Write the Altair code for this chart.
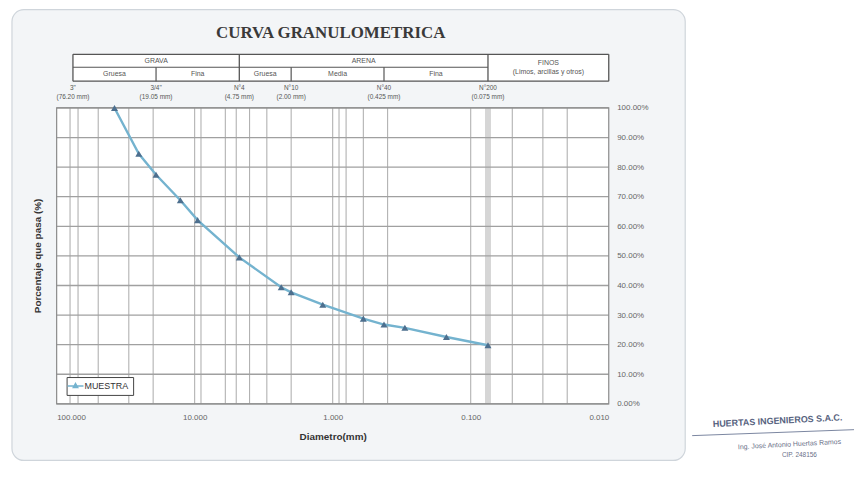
import altair as alt
import pandas as pd
import numpy as np

# ---------------- data ----------------
diametros = [38.1, 25.4, 19.05, 12.7, 9.525, 4.75, 2.36, 2.00, 1.18, 0.60, 0.425, 0.30, 0.15, 0.075]
pasa = [100.0, 84.5, 77.4, 68.8, 62.1, 49.5, 39.4, 37.7, 33.5, 28.8, 26.8, 25.7, 22.6, 19.8]
serie = "MUESTRA"

x_ticks = [100, 10, 1, 0.1, 0.01]
y_ticks = list(range(0, 101, 10))
v_grid = [80, 70, 50, 30, 20, 10, 9, 6, 5, 4, 3, 2, 1, 0.9, 0.8, 0.6, 0.4, 0.1, 0.05, 0.03, 0.02]
banda = [0.075]

tamices = ['3"', '3/4"', 'N°4', 'N°10', 'N°40', 'N°200']
tamiz_mm = [76.2, 19.05, 4.75, 2.0, 0.425, 0.075]
tamiz_txt = ['(76.20 mm)', '(19.05 mm)', '(4.75 mm)', '(2.00 mm)', '(0.425 mm)', '(0.075 mm)']

fila1 = ['GRAVA', 'ARENA']
fila1_desde = [76.2, 4.75]
fila1_hasta = [4.75, 0.075]
fila2 = ['Gruesa', 'Fina', 'Gruesa', 'Media', 'Fina']
fila2_desde = [76.2, 19.05, 4.75, 2.0, 0.425]
fila2_hasta = [19.05, 4.75, 2.0, 0.425, 0.075]
finos = ['FINOS', '(Limos, arcillas y otros)']
finos_desde = 0.075
finos_hasta = 0.01
div_completas = [76.2, 4.75, 0.075, 0.01]
div_fila2 = [19.05, 2.0, 0.425]

# ---------------- frames ----------------
curva = pd.DataFrame({"d": diametros, "p": pasa, "serie": serie})
hgrid = pd.DataFrame({"p": y_ticks})
vgrid = pd.DataFrame({"d": v_grid})
band = pd.DataFrame({"d": banda})
tam = pd.DataFrame({"d": tamiz_mm, "t1": tamices, "t2": tamiz_txt})
f1 = pd.DataFrame({"t": fila1, "c": np.sqrt(np.array(fila1_desde) * np.array(fila1_hasta))})
f2 = pd.DataFrame({"t": fila2, "c": np.sqrt(np.array(fila2_desde) * np.array(fila2_hasta))})
fin = pd.DataFrame({"t": [finos[0]], "c": [np.sqrt(finos_desde * finos_hasta)]})
fin2 = pd.DataFrame({"t": [finos[1]], "c": [np.sqrt(finos_desde * finos_hasta)]})
divc = pd.DataFrame({"d": div_completas})
div2 = pd.DataFrame({"d": div_fila2})
caja = pd.DataFrame({"a": [div_completas[0]], "b": [div_completas[-1]]})
marco = pd.DataFrame({"a": [x_ticks[0]], "b": [x_ticks[-1]], "p1": [100], "p2": [0]})

W, H = 556, 298
xs = alt.Scale(type="log", domain=[0.01, 100], reverse=True)
ys = alt.Scale(domain=[0, 100])
FONT = "Liberation Sans"

AX = alt.Axis(values=x_ticks, format=".3f", grid=False, ticks=False,
              domain=False, labelFontSize=8, labelColor="#666",
              labelPadding=10, labelFont=FONT, title="Diametro(mm)",
              titleFontSize=10, titleFont=FONT, titleColor="#333",
              titlePadding=10, zindex=2, labelOverlap=False)
AY = alt.Axis(orient="right", values=y_ticks, grid=False, ticks=False, domain=False,
              labelExpr="format(datum.value, '.2f') + '%'", labelFontSize=8,
              labelColor="#666", labelPadding=8, labelFont=FONT, title=None,
              zindex=2, labelOverlap=False)


def X(f):
    return alt.X(f, scale=xs, axis=AX)


def Y(f):
    return alt.Y(f, scale=ys, axis=AY)


T_TOP, T_MID, T_BOT = -54, -41, -27

# card background
card = alt.Chart(pd.DataFrame({"k": [0]})).mark_rect(
    fill="#f3f5f7", stroke="#cfd5db", strokeWidth=1.2, cornerRadius=12
).encode(x=alt.value(-45), x2=alt.value(633), y=alt.value(-99), y2=alt.value(355))

plot_bg = alt.Chart(marco).mark_rect(fill="white").encode(
    x=X("a:Q"), x2="b:Q", y=Y("p1:Q"), y2="p2:Q")

band_l = alt.Chart(band).mark_rule(color="#d6d6d6", strokeWidth=6).encode(x=X("d:Q"))
vg = alt.Chart(vgrid).mark_rule(color="#a9a9a9", strokeWidth=1).encode(x=X("d:Q"))
hg = alt.Chart(hgrid).mark_rule(color="#a0a0a0", strokeWidth=1.3).encode(y=Y("p:Q"))

border = alt.Chart(marco).mark_rect(fill=None, stroke="#8a8a8a", strokeWidth=1.2).encode(
    x=X("a:Q"), x2="b:Q", y=Y("p1:Q"), y2="p2:Q")

# header table
tbl_bg = alt.Chart(caja).mark_rect(fill="white").encode(
    x=X("a:Q"), x2="b:Q", y=alt.value(T_TOP), y2=alt.value(T_BOT))
hl = []
for yy, src in [(T_TOP, caja), (T_BOT, caja)]:
    hl.append(alt.Chart(src).mark_rule(color="#555", strokeWidth=1.3).encode(
        x=X("a:Q"), x2="b:Q", y=alt.value(yy)))
hl.append(alt.Chart(pd.DataFrame({"a": [div_completas[0]], "b": [finos_desde]})).mark_rule(
    color="#555", strokeWidth=1.2).encode(x=X("a:Q"), x2="b:Q", y=alt.value(T_MID)))
vc = alt.Chart(divc).mark_rule(color="#555", strokeWidth=1.3).encode(
    x=X("d:Q"), y=alt.value(T_TOP), y2=alt.value(T_BOT))
v2 = alt.Chart(div2).mark_rule(color="#555", strokeWidth=1.2).encode(
    x=X("d:Q"), y=alt.value(T_MID), y2=alt.value(T_BOT))
txt_kw = dict(font=FONT, fontSize=7, color="#555")
t1 = alt.Chart(f1).mark_text(**txt_kw).encode(x=X("c:Q"), y=alt.value(-47.5), text="t:N")
t2 = alt.Chart(f2).mark_text(**txt_kw).encode(x=X("c:Q"), y=alt.value(-34), text="t:N")
t3 = alt.Chart(fin).mark_text(**txt_kw).encode(x=X("c:Q"), y=alt.value(-45), text="t:N")
t4 = alt.Chart(fin2).mark_text(**txt_kw).encode(x=X("c:Q"), y=alt.value(-36), text="t:N")

# sieve labels
s1 = alt.Chart(tam).mark_text(font=FONT, fontSize=6.5, color="#555").encode(
    x=X("d:Q"), y=alt.value(-20), text="t1:N")
s2 = alt.Chart(tam).mark_text(font=FONT, fontSize=6.5, color="#555").encode(
    x=X("d:Q"), y=alt.value(-11), text="t2:N")

# title & y title
title = alt.Chart(pd.DataFrame({"t": ["CURVA GRANULOMETRICA"]})).mark_text(
    font="Liberation Serif", fontSize=17, fontWeight="bold", color="#3a3a3a").encode(
    x=alt.value(276), y=alt.value(-75), text="t:N")
ytitle = alt.Chart(pd.DataFrame({"t": ["Porcentaje que pasa (%)"]})).mark_text(
    font=FONT, fontSize=10, fontWeight="bold", color="#333", angle=270).encode(
    x=alt.value(-19), y=alt.value(149), text="t:N")

# data
line = alt.Chart(curva).mark_line(color="#74b3cf", strokeWidth=2.4).encode(x=X("d:Q"), y=Y("p:Q"))
pts = alt.Chart(curva).mark_point(shape="triangle-up", filled=True, size=50, opacity=1).encode(
    x=X("d:Q"), y=Y("p:Q"),
    color=alt.Color("serie:N", scale=alt.Scale(range=["#4d6f8e"]),
                    legend=alt.Legend(title=None, orient="none", legendX=10, legendY=271,
                                      strokeColor="#444", fillColor="white", padding=4,
                                      symbolType="M-2,0L2,0M0,-0.6L0.55,0.4L-0.55,0.4Z",
                                      symbolSize=64, symbolStrokeColor="#74b3cf",
                                      symbolStrokeWidth=1.5, labelFontSize=9, labelColor="#333",
                                      labelFont=FONT, symbolOpacity=1)))

# stamp / signature
stamp = alt.Chart(pd.DataFrame({"t": ["HUERTAS  INGENIEROS  S.A.C."]})).mark_text(
    font=FONT, fontSize=9, fontWeight="bold", color="#56627e", angle=357).encode(
    x=alt.value(726), y=alt.value(315), text="t:N")
ing = alt.Chart(pd.DataFrame({"t": ["Ing. José Antonio Huertas Ramos"]})).mark_text(
    font=FONT, fontSize=7, color="#6a7088", angle=357).encode(
    x=alt.value(738), y=alt.value(339), text="t:N")
cip = alt.Chart(pd.DataFrame({"t": ["CIP. 248156"]})).mark_text(
    font=FONT, fontSize=6.5, color="#6a7088").encode(
    x=alt.value(748), y=alt.value(350), text="t:N")
sig_line = alt.Chart(pd.DataFrame({"k": [0]})).mark_rule(color="#7b86a0", strokeWidth=1).encode(
    x=alt.value(640), x2=alt.value(803), y=alt.value(330), y2=alt.value(324))

chart = alt.layer(
    card, plot_bg, band_l, vg, hg, border, tbl_bg, *hl, vc, v2, t1, t2, t3, t4, s1, s2,
    title, ytitle, line, pts, stamp, ing, cip, sig_line
).properties(
    width=W, height=H,
    autosize=alt.AutoSizeParams(type="none"),
    padding={"left": 49, "top": 99, "right": 250, "bottom": 70},
    background="white",
).configure_view(stroke=None)

chart.save("out.html", embed_options={"renderer": "svg", "actions": False})
